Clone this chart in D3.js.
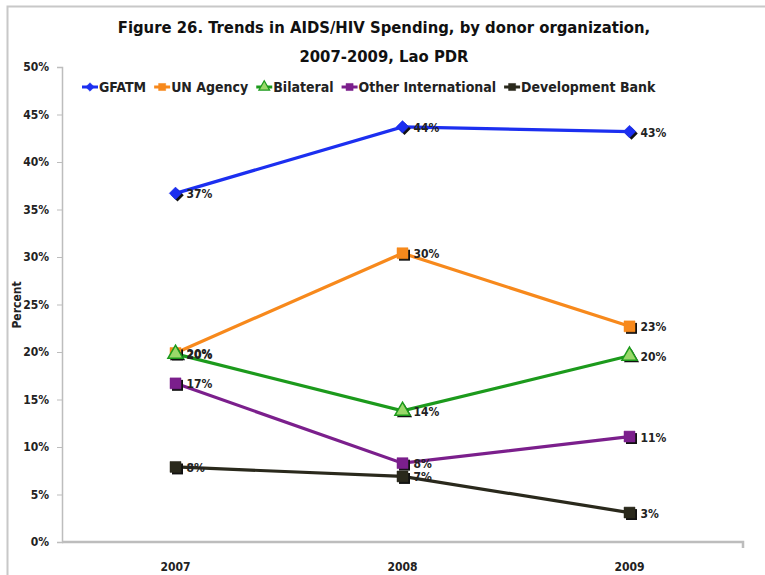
<!DOCTYPE html>
<html>
<head>
<meta charset="utf-8">
<script src="https://cdn.jsdelivr.net/npm/d3@7"></script>
<style>
  body { margin: 0; background: #fff; }
  svg text { font-family: "DejaVu Sans Condensed", "Open Sans", sans-serif; font-weight: bold; }
</style>
</head>
<body>
<svg id="chart" width="765" height="575"></svg>
<script>
// data
var years = ['2007', '2008', '2009'];
var gfatm = [36.7, 43.7, 43.2];
var unAgency = [19.9, 30.4, 22.7];
var bilateral = [19.8, 13.8, 19.6];
var otherIntl = [16.7, 8.3, 11.1];
var devBank = [7.9, 6.9, 3.1];
var yTicks = [0, 5, 10, 15, 20, 25, 30, 35, 40, 45, 50];

var series = [
  {name: 'GFATM', values: gfatm, color: '#1c2ff0', fill: '#1c2ff0', shape: 'diamond'},
  {name: 'UN Agency', values: unAgency, color: '#f7891c', fill: '#f7891c', shape: 'square'},
  {name: 'Bilateral', values: bilateral, color: '#1c9a1c', fill: '#9ad86a', shape: 'triangle'},
  {name: 'Other International', values: otherIntl, color: '#7b1f8c', fill: '#7b1f8c', shape: 'square'},
  {name: 'Development Bank', values: devBank, color: '#2a291c', fill: '#2a291c', shape: 'square'}
];

var svg = d3.select('#chart');
var margin = {left: 62, right: 743, top: 67, bottom: 542};

// outer frame
svg.append('path')
  .attr('d', 'M7.5,575 V6.5 H765')
  .attr('fill', 'none')
  .attr('stroke', '#c8c8c8')
  .attr('stroke-width', 2);

//////////////
// Scales   //
//////////////
var x = d3.scaleBand().domain(years).range([margin.left, margin.right]);
var y = d3.scaleLinear().domain([0, 50]).range([margin.bottom, margin.top]);

var yAxis = d3.axisLeft(y)
  .tickValues(yTicks)
  .tickSize(5)
  .tickPadding(8)
  .tickFormat(function(d) { return d + '%'; });

var gy = svg.append('g')
  .attr('transform', 'translate(' + margin.left + ',0)')
  .call(yAxis);
gy.select('.domain').attr('stroke', '#bdbdbd').attr('stroke-width', 1.5);
gy.selectAll('.tick line').attr('stroke', '#bdbdbd');
gy.selectAll('.tick text').attr('font-size', 12).attr('fill', '#222');

var xAxis = d3.axisBottom(x).tickSize(0).tickPadding(20);
var gx = svg.append('g')
  .attr('transform', 'translate(0,' + margin.bottom + ')')
  .call(xAxis);
gx.select('.domain').attr('stroke', '#bdbdbd').attr('stroke-width', 2.5)
  .attr('d', 'M' + margin.left + ',0H' + margin.right + 'V6');
gx.selectAll('.tick text').attr('font-size', 12).attr('fill', '#222');

// y axis title
svg.append('text')
  .attr('transform', 'translate(21,305) rotate(-90)')
  .attr('text-anchor', 'middle')
  .attr('font-size', 12)
  .attr('fill', '#222')
  .text('Percent');

// title
svg.append('text')
  .attr('x', 384).attr('y', 33)
  .attr('text-anchor', 'middle')
  .attr('font-size', 16.5)
  .attr('fill', '#111')
  .text('Figure 26. Trends in AIDS/HIV Spending, by donor organization,');
svg.append('text')
  .attr('x', 384).attr('y', 62)
  .attr('text-anchor', 'middle')
  .attr('font-size', 16.5)
  .attr('fill', '#111')
  .text('2007-2009, Lao PDR');

/////////////////////
// Drawing helpers //
/////////////////////
// diamond = square turned 45 degrees, wider than d3's own diamond
var symbolFor = function(shape, size) {
  var type = shape === 'triangle' ? d3.symbolTriangle : d3.symbolSquare;
  return d3.symbol().type(type).size(size)();
};
var place = function(shape, cx, cy) {
  return 'translate(' + cx + ',' + cy + ')' + (shape === 'diamond' ? ' rotate(45)' : '');
};

var line = d3.line()
  .x(function(d, i) { return x(years[i]) + x.bandwidth() / 2; })
  .y(function(d) { return y(d); });

var plot = svg.append('g');

series.forEach(function(s) {
  plot.append('path')
    .attr('d', line(s.values))
    .attr('fill', 'none')
    .attr('stroke', s.color)
    .attr('stroke-width', 3.2);
});

series.forEach(function(s) {
  var size = s.shape === 'diamond' ? 78 : s.shape === 'triangle' ? 100 : 120;
  s.values.forEach(function(v, i) {
    var cx = x(years[i]) + x.bandwidth() / 2;
    var cy = y(v);
    // shadow
    plot.append('path')
      .attr('d', symbolFor(s.shape, size))
      .attr('transform', place(s.shape, cx + 2, cy + 2))
      .attr('fill', '#111');
    plot.append('path')
      .attr('d', symbolFor(s.shape, size))
      .attr('transform', place(s.shape, cx, cy))
      .attr('fill', s.fill)
      .attr('stroke', s.color)
      .attr('stroke-width', s.shape === 'triangle' ? 1.5 : 0.5);
    plot.append('text')
      .attr('x', cx + 11)
      .attr('y', cy + 5)
      .attr('font-size', 12)
      .attr('fill', '#222')
      .text(Math.round(v) + '%');
  });
});

////////////
// Legend //
////////////
// items laid out one after the other, measured from the text
var legend = svg.append('g');
var lx = 82, ly = 87;
series.forEach(function(s) {
  legend.append('line')
    .attr('x1', lx).attr('x2', lx + 16)
    .attr('y1', ly).attr('y2', ly)
    .attr('stroke', s.color).attr('stroke-width', 3);
  legend.append('path')
    .attr('d', symbolFor(s.shape, s.shape === 'diamond' ? 36 : 50))
    .attr('transform', place(s.shape, lx + 8, ly))
    .attr('fill', s.fill)
    .attr('stroke', s.color)
    .attr('stroke-width', s.shape === 'triangle' ? 1.2 : 0.5);
  var t = legend.append('text')
    .attr('x', lx + 17)
    .attr('y', ly + 5)
    .attr('font-size', 14)
    .attr('fill', '#222')
    .text(s.name);
  lx += 17 + t.node().getComputedTextLength() + 8;
});
</script>
</body>
</html>
